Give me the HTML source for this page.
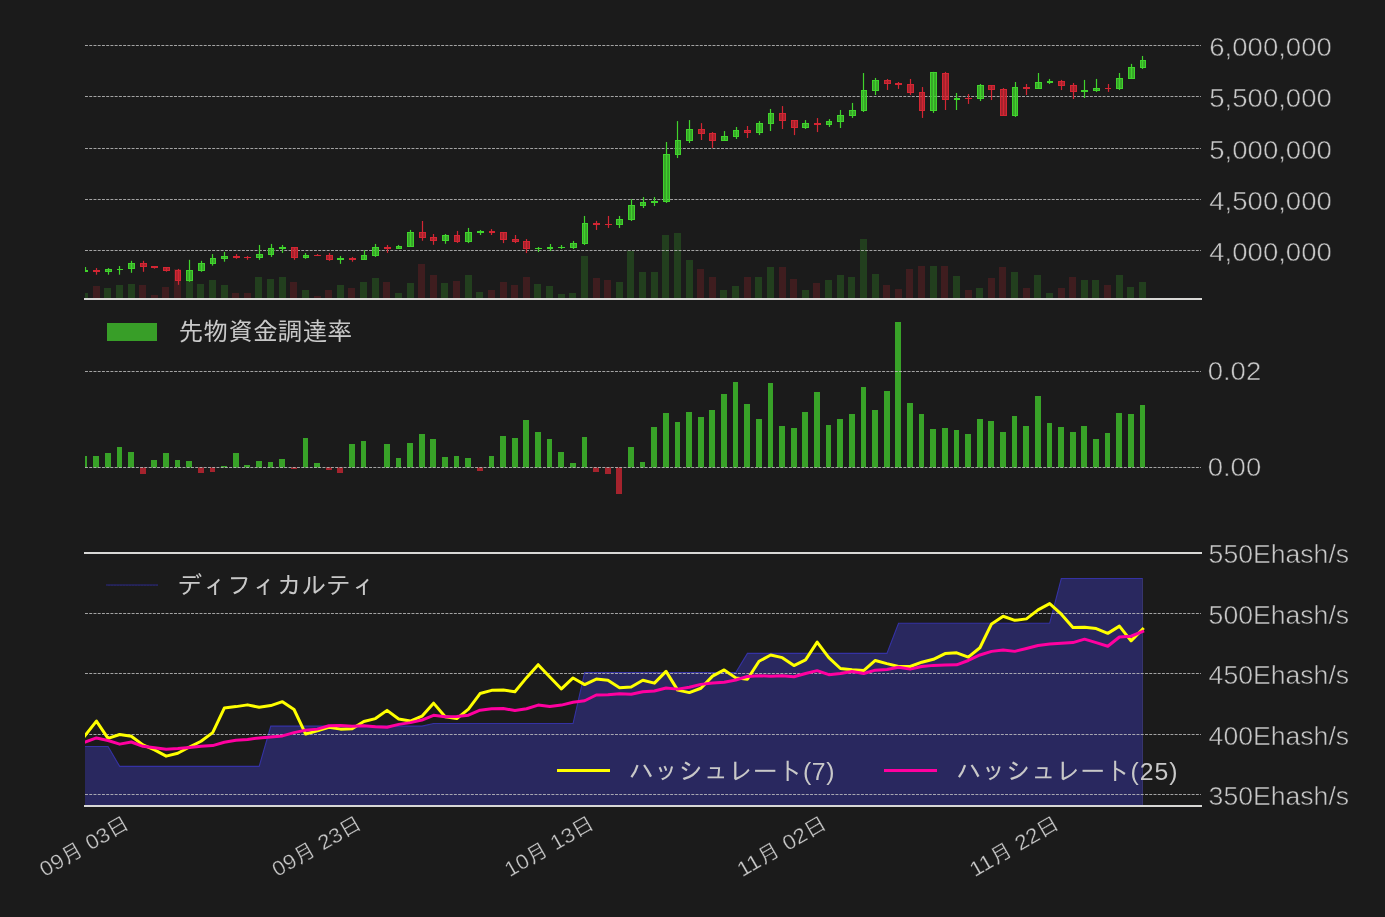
<!DOCTYPE html>
<html lang="ja"><head><meta charset="utf-8"><title>chart</title>
<style>html,body{margin:0;padding:0;background:#1b1b1b;}body{width:1385px;height:917px;overflow:hidden;}</style>
</head><body>
<svg width="1385" height="917" viewBox="0 0 1385 917" style="display:block">
<rect width="1385" height="917" fill="#1b1b1b"/>
<defs><clipPath id="cp"><rect x="85.0" y="0" width="1116.0" height="917"/></clipPath></defs>
<g clip-path="url(#cp)">
<rect x="81" y="293" width="7" height="6" fill="#40d32c" fill-opacity="0.2"/>
<rect x="93" y="286" width="7" height="13" fill="#d32633" fill-opacity="0.2"/>
<rect x="104" y="288" width="7" height="11" fill="#40d32c" fill-opacity="0.2"/>
<rect x="116" y="285" width="7" height="14" fill="#40d32c" fill-opacity="0.2"/>
<rect x="128" y="284" width="7" height="15" fill="#40d32c" fill-opacity="0.2"/>
<rect x="139" y="285" width="7" height="14" fill="#d32633" fill-opacity="0.2"/>
<rect x="151" y="295" width="7" height="4" fill="#d32633" fill-opacity="0.2"/>
<rect x="162" y="287" width="7" height="12" fill="#d32633" fill-opacity="0.2"/>
<rect x="174" y="269" width="7" height="30" fill="#d32633" fill-opacity="0.2"/>
<rect x="186" y="281" width="7" height="18" fill="#40d32c" fill-opacity="0.2"/>
<rect x="197" y="284" width="7" height="15" fill="#40d32c" fill-opacity="0.2"/>
<rect x="209" y="280" width="7" height="19" fill="#40d32c" fill-opacity="0.2"/>
<rect x="221" y="285" width="7" height="14" fill="#40d32c" fill-opacity="0.2"/>
<rect x="232" y="293" width="7" height="6" fill="#d32633" fill-opacity="0.2"/>
<rect x="244" y="293" width="7" height="6" fill="#d32633" fill-opacity="0.2"/>
<rect x="255" y="277" width="7" height="22" fill="#40d32c" fill-opacity="0.2"/>
<rect x="267" y="279" width="7" height="20" fill="#40d32c" fill-opacity="0.2"/>
<rect x="279" y="277" width="7" height="22" fill="#40d32c" fill-opacity="0.2"/>
<rect x="290" y="282" width="7" height="17" fill="#d32633" fill-opacity="0.2"/>
<rect x="302" y="290" width="7" height="9" fill="#40d32c" fill-opacity="0.2"/>
<rect x="314" y="296" width="7" height="3" fill="#d32633" fill-opacity="0.2"/>
<rect x="325" y="290" width="7" height="9" fill="#d32633" fill-opacity="0.2"/>
<rect x="337" y="285" width="7" height="14" fill="#40d32c" fill-opacity="0.2"/>
<rect x="348" y="288" width="7" height="11" fill="#d32633" fill-opacity="0.2"/>
<rect x="360" y="282" width="7" height="17" fill="#40d32c" fill-opacity="0.2"/>
<rect x="372" y="278" width="7" height="21" fill="#40d32c" fill-opacity="0.2"/>
<rect x="383" y="282" width="7" height="17" fill="#d32633" fill-opacity="0.2"/>
<rect x="395" y="293" width="7" height="6" fill="#40d32c" fill-opacity="0.2"/>
<rect x="407" y="283" width="7" height="16" fill="#40d32c" fill-opacity="0.2"/>
<rect x="418" y="264" width="7" height="35" fill="#d32633" fill-opacity="0.2"/>
<rect x="430" y="275" width="7" height="24" fill="#d32633" fill-opacity="0.2"/>
<rect x="441" y="283" width="7" height="16" fill="#40d32c" fill-opacity="0.2"/>
<rect x="453" y="281" width="7" height="18" fill="#d32633" fill-opacity="0.2"/>
<rect x="465" y="275" width="7" height="24" fill="#40d32c" fill-opacity="0.2"/>
<rect x="476" y="292" width="7" height="7" fill="#40d32c" fill-opacity="0.2"/>
<rect x="488" y="290" width="7" height="9" fill="#d32633" fill-opacity="0.2"/>
<rect x="500" y="282" width="7" height="17" fill="#d32633" fill-opacity="0.2"/>
<rect x="511" y="285" width="7" height="14" fill="#d32633" fill-opacity="0.2"/>
<rect x="523" y="277" width="7" height="22" fill="#d32633" fill-opacity="0.2"/>
<rect x="534" y="284" width="7" height="15" fill="#40d32c" fill-opacity="0.2"/>
<rect x="546" y="286" width="7" height="13" fill="#40d32c" fill-opacity="0.2"/>
<rect x="558" y="294" width="7" height="5" fill="#40d32c" fill-opacity="0.2"/>
<rect x="569" y="293" width="7" height="6" fill="#40d32c" fill-opacity="0.2"/>
<rect x="581" y="256" width="7" height="43" fill="#40d32c" fill-opacity="0.2"/>
<rect x="593" y="278" width="7" height="21" fill="#d32633" fill-opacity="0.2"/>
<rect x="604" y="280" width="7" height="19" fill="#d32633" fill-opacity="0.2"/>
<rect x="616" y="282" width="7" height="17" fill="#40d32c" fill-opacity="0.2"/>
<rect x="627" y="251" width="7" height="48" fill="#40d32c" fill-opacity="0.2"/>
<rect x="639" y="272" width="7" height="27" fill="#40d32c" fill-opacity="0.2"/>
<rect x="651" y="272" width="7" height="27" fill="#40d32c" fill-opacity="0.2"/>
<rect x="662" y="235" width="7" height="64" fill="#40d32c" fill-opacity="0.2"/>
<rect x="674" y="233" width="7" height="66" fill="#40d32c" fill-opacity="0.2"/>
<rect x="686" y="260" width="7" height="39" fill="#40d32c" fill-opacity="0.2"/>
<rect x="697" y="269" width="7" height="30" fill="#d32633" fill-opacity="0.2"/>
<rect x="709" y="277" width="7" height="22" fill="#d32633" fill-opacity="0.2"/>
<rect x="720" y="290" width="7" height="9" fill="#40d32c" fill-opacity="0.2"/>
<rect x="732" y="286" width="7" height="13" fill="#40d32c" fill-opacity="0.2"/>
<rect x="744" y="277" width="7" height="22" fill="#d32633" fill-opacity="0.2"/>
<rect x="755" y="277" width="7" height="22" fill="#40d32c" fill-opacity="0.2"/>
<rect x="767" y="267" width="7" height="32" fill="#40d32c" fill-opacity="0.2"/>
<rect x="779" y="267" width="7" height="32" fill="#d32633" fill-opacity="0.2"/>
<rect x="790" y="279" width="7" height="20" fill="#d32633" fill-opacity="0.2"/>
<rect x="802" y="290" width="7" height="9" fill="#40d32c" fill-opacity="0.2"/>
<rect x="813" y="283" width="7" height="16" fill="#d32633" fill-opacity="0.2"/>
<rect x="825" y="280" width="7" height="19" fill="#40d32c" fill-opacity="0.2"/>
<rect x="837" y="275" width="7" height="24" fill="#40d32c" fill-opacity="0.2"/>
<rect x="848" y="277" width="7" height="22" fill="#40d32c" fill-opacity="0.2"/>
<rect x="860" y="239" width="7" height="60" fill="#40d32c" fill-opacity="0.2"/>
<rect x="872" y="274" width="7" height="25" fill="#40d32c" fill-opacity="0.2"/>
<rect x="883" y="285" width="7" height="14" fill="#d32633" fill-opacity="0.2"/>
<rect x="895" y="289" width="7" height="10" fill="#d32633" fill-opacity="0.2"/>
<rect x="906" y="269" width="7" height="30" fill="#d32633" fill-opacity="0.2"/>
<rect x="918" y="266" width="7" height="33" fill="#d32633" fill-opacity="0.2"/>
<rect x="930" y="266" width="7" height="33" fill="#40d32c" fill-opacity="0.2"/>
<rect x="941" y="266" width="7" height="33" fill="#d32633" fill-opacity="0.2"/>
<rect x="953" y="276" width="7" height="23" fill="#40d32c" fill-opacity="0.2"/>
<rect x="965" y="290" width="7" height="9" fill="#d32633" fill-opacity="0.2"/>
<rect x="976" y="288" width="7" height="11" fill="#40d32c" fill-opacity="0.2"/>
<rect x="988" y="278" width="7" height="21" fill="#d32633" fill-opacity="0.2"/>
<rect x="999" y="267" width="7" height="32" fill="#d32633" fill-opacity="0.2"/>
<rect x="1011" y="272" width="7" height="27" fill="#40d32c" fill-opacity="0.2"/>
<rect x="1023" y="288" width="7" height="11" fill="#d32633" fill-opacity="0.2"/>
<rect x="1034" y="275" width="7" height="24" fill="#40d32c" fill-opacity="0.2"/>
<rect x="1046" y="293" width="7" height="6" fill="#40d32c" fill-opacity="0.2"/>
<rect x="1058" y="288" width="7" height="11" fill="#d32633" fill-opacity="0.2"/>
<rect x="1069" y="277" width="7" height="22" fill="#d32633" fill-opacity="0.2"/>
<rect x="1081" y="280" width="7" height="19" fill="#40d32c" fill-opacity="0.2"/>
<rect x="1092" y="280" width="7" height="19" fill="#40d32c" fill-opacity="0.2"/>
<rect x="1104" y="285" width="7" height="14" fill="#d32633" fill-opacity="0.2"/>
<rect x="1116" y="275" width="7" height="24" fill="#40d32c" fill-opacity="0.2"/>
<rect x="1127" y="287" width="7" height="12" fill="#40d32c" fill-opacity="0.2"/>
<rect x="1139" y="282" width="7" height="17" fill="#40d32c" fill-opacity="0.2"/>
<g stroke="#c6c6c6" stroke-width="0.8" stroke-dasharray="2.96 1.28" fill="none">
<line x1="85.0" x2="1201.0" y1="45.5" y2="45.5"/>
<line x1="85.0" x2="1201.0" y1="96.5" y2="96.5"/>
<line x1="85.0" x2="1201.0" y1="148.5" y2="148.5"/>
<line x1="85.0" x2="1201.0" y1="199.5" y2="199.5"/>
<line x1="85.0" x2="1201.0" y1="250.5" y2="250.5"/>
</g>
<line x1="85.5" x2="85.5" y1="267.04" y2="271.81" stroke="#40d32c" stroke-width="1.2"/>
<rect x="82" y="270" width="6" height="2" fill="#40d32c"/>
<line x1="96.5" x2="96.5" y1="268.05" y2="274.69" stroke="#d32633" stroke-width="1.2"/>
<rect x="93" y="270" width="7" height="2" fill="#d32633"/>
<line x1="108.5" x2="108.5" y1="268.05" y2="274.69" stroke="#40d32c" stroke-width="1.2"/>
<rect x="105.5" y="269.5" width="6" height="2" fill="#40d32c" fill-opacity="0.75" stroke="#40d32c" stroke-width="1"/>
<line x1="119.5" x2="119.5" y1="266.03" y2="274.69" stroke="#40d32c" stroke-width="1.2"/>
<rect x="117" y="269" width="6" height="1" fill="#40d32c"/>
<line x1="131.5" x2="131.5" y1="260.83" y2="272.82" stroke="#40d32c" stroke-width="1.2"/>
<rect x="128.5" y="263.5" width="6" height="5" fill="#40d32c" fill-opacity="0.75" stroke="#40d32c" stroke-width="1"/>
<line x1="143.5" x2="143.5" y1="260.83" y2="271.81" stroke="#d32633" stroke-width="1.2"/>
<rect x="140.5" y="263.5" width="6" height="3" fill="#d32633" fill-opacity="0.75" stroke="#d32633" stroke-width="1"/>
<line x1="154.5" x2="154.5" y1="266.03" y2="268.63" stroke="#d32633" stroke-width="1.2"/>
<rect x="151" y="266" width="7" height="2" fill="#d32633"/>
<line x1="166.5" x2="166.5" y1="267.04" y2="271.66" stroke="#d32633" stroke-width="1.2"/>
<rect x="163.5" y="267.5" width="6" height="3" fill="#d32633" fill-opacity="0.75" stroke="#d32633" stroke-width="1"/>
<line x1="178.5" x2="178.5" y1="268.92" y2="284.8" stroke="#d32633" stroke-width="1.2"/>
<rect x="175.5" y="270.5" width="5" height="10" fill="#d32633" fill-opacity="0.75" stroke="#d32633" stroke-width="1"/>
<line x1="189.5" x2="189.5" y1="259.82" y2="281.77" stroke="#40d32c" stroke-width="1.2"/>
<rect x="186.5" y="270.5" width="6" height="10" fill="#40d32c" fill-opacity="0.75" stroke="#40d32c" stroke-width="1"/>
<line x1="201.5" x2="201.5" y1="260.83" y2="271.81" stroke="#40d32c" stroke-width="1.2"/>
<rect x="198.5" y="263.5" width="6" height="7" fill="#40d32c" fill-opacity="0.75" stroke="#40d32c" stroke-width="1"/>
<line x1="212.5" x2="212.5" y1="254.04" y2="265.6" stroke="#40d32c" stroke-width="1.2"/>
<rect x="210.5" y="258.5" width="5" height="5" fill="#40d32c" fill-opacity="0.75" stroke="#40d32c" stroke-width="1"/>
<line x1="224.5" x2="224.5" y1="251.88" y2="261.7" stroke="#40d32c" stroke-width="1.2"/>
<rect x="221.5" y="256.5" width="6" height="2" fill="#40d32c" fill-opacity="0.75" stroke="#40d32c" stroke-width="1"/>
<line x1="236.5" x2="236.5" y1="254.04" y2="258.81" stroke="#d32633" stroke-width="1.2"/>
<rect x="233" y="256" width="7" height="2" fill="#d32633"/>
<line x1="247.5" x2="247.5" y1="255.92" y2="259.82" stroke="#d32633" stroke-width="1.2"/>
<rect x="244" y="257" width="7" height="1" fill="#d32633"/>
<line x1="259.5" x2="259.5" y1="244.95" y2="259.82" stroke="#40d32c" stroke-width="1.2"/>
<rect x="256.5" y="254.5" width="6" height="3" fill="#40d32c" fill-opacity="0.75" stroke="#40d32c" stroke-width="1"/>
<line x1="271.5" x2="271.5" y1="243.94" y2="256.93" stroke="#40d32c" stroke-width="1.2"/>
<rect x="268.5" y="248.5" width="5" height="6" fill="#40d32c" fill-opacity="0.75" stroke="#40d32c" stroke-width="1"/>
<line x1="282.5" x2="282.5" y1="244.95" y2="252.89" stroke="#40d32c" stroke-width="1.2"/>
<rect x="279" y="247" width="7" height="2" fill="#40d32c"/>
<line x1="294.5" x2="294.5" y1="247.11" y2="259.82" stroke="#d32633" stroke-width="1.2"/>
<rect x="291.5" y="247.5" width="6" height="10" fill="#d32633" fill-opacity="0.75" stroke="#d32633" stroke-width="1"/>
<line x1="305.5" x2="305.5" y1="253.03" y2="258.81" stroke="#40d32c" stroke-width="1.2"/>
<rect x="303.5" y="255.5" width="5" height="2" fill="#40d32c" fill-opacity="0.75" stroke="#40d32c" stroke-width="1"/>
<line x1="317.5" x2="317.5" y1="254.04" y2="255.92" stroke="#d32633" stroke-width="1.2"/>
<rect x="314" y="255" width="7" height="1" fill="#d32633"/>
<line x1="329.5" x2="329.5" y1="253.03" y2="260.83" stroke="#d32633" stroke-width="1.2"/>
<rect x="326.5" y="255.5" width="6" height="4" fill="#d32633" fill-opacity="0.75" stroke="#d32633" stroke-width="1"/>
<line x1="340.5" x2="340.5" y1="255.92" y2="263.86" stroke="#40d32c" stroke-width="1.2"/>
<rect x="337" y="258" width="7" height="2" fill="#40d32c"/>
<line x1="352.5" x2="352.5" y1="256.93" y2="261.7" stroke="#d32633" stroke-width="1.2"/>
<rect x="349" y="258" width="7" height="2" fill="#d32633"/>
<line x1="364.5" x2="364.5" y1="250.14" y2="259.82" stroke="#40d32c" stroke-width="1.2"/>
<rect x="361.5" y="255.5" width="5" height="4" fill="#40d32c" fill-opacity="0.75" stroke="#40d32c" stroke-width="1"/>
<line x1="375.5" x2="375.5" y1="243.94" y2="256.93" stroke="#40d32c" stroke-width="1.2"/>
<rect x="372.5" y="247.5" width="6" height="8" fill="#40d32c" fill-opacity="0.75" stroke="#40d32c" stroke-width="1"/>
<line x1="387.5" x2="387.5" y1="244.95" y2="252.89" stroke="#d32633" stroke-width="1.2"/>
<rect x="384" y="247" width="7" height="2" fill="#d32633"/>
<line x1="398.5" x2="398.5" y1="244.95" y2="248.7" stroke="#40d32c" stroke-width="1.2"/>
<rect x="396.5" y="246.5" width="5" height="2" fill="#40d32c" fill-opacity="0.75" stroke="#40d32c" stroke-width="1"/>
<line x1="410.5" x2="410.5" y1="229.93" y2="246.68" stroke="#40d32c" stroke-width="1.2"/>
<rect x="407.5" y="232.5" width="6" height="14" fill="#40d32c" fill-opacity="0.75" stroke="#40d32c" stroke-width="1"/>
<line x1="422.5" x2="422.5" y1="220.97" y2="240.76" stroke="#d32633" stroke-width="1.2"/>
<rect x="419.5" y="232.5" width="6" height="5" fill="#d32633" fill-opacity="0.75" stroke="#d32633" stroke-width="1"/>
<line x1="433.5" x2="433.5" y1="233.97" y2="244.8" stroke="#d32633" stroke-width="1.2"/>
<rect x="430.5" y="237.5" width="6" height="3" fill="#d32633" fill-opacity="0.75" stroke="#d32633" stroke-width="1"/>
<line x1="445.5" x2="445.5" y1="233.97" y2="243.79" stroke="#40d32c" stroke-width="1.2"/>
<rect x="442.5" y="235.5" width="6" height="5" fill="#40d32c" fill-opacity="0.75" stroke="#40d32c" stroke-width="1"/>
<line x1="457.5" x2="457.5" y1="230.94" y2="242.92" stroke="#d32633" stroke-width="1.2"/>
<rect x="454.5" y="235.5" width="5" height="6" fill="#d32633" fill-opacity="0.75" stroke="#d32633" stroke-width="1"/>
<line x1="468.5" x2="468.5" y1="227.94" y2="243.1" stroke="#40d32c" stroke-width="1.2"/>
<rect x="465.5" y="232.5" width="6" height="9" fill="#40d32c" fill-opacity="0.75" stroke="#40d32c" stroke-width="1"/>
<line x1="480.5" x2="480.5" y1="229.96" y2="235.02" stroke="#40d32c" stroke-width="1.2"/>
<rect x="477" y="231" width="7" height="2" fill="#40d32c"/>
<line x1="491.5" x2="491.5" y1="229.1" y2="235.02" stroke="#d32633" stroke-width="1.2"/>
<rect x="489" y="231" width="6" height="2" fill="#d32633"/>
<line x1="503.5" x2="503.5" y1="231.99" y2="243.1" stroke="#d32633" stroke-width="1.2"/>
<rect x="500.5" y="232.5" width="6" height="7" fill="#d32633" fill-opacity="0.75" stroke="#d32633" stroke-width="1"/>
<line x1="515.5" x2="515.5" y1="235.02" y2="243.1" stroke="#d32633" stroke-width="1.2"/>
<rect x="512.5" y="239.5" width="6" height="2" fill="#d32633" fill-opacity="0.75" stroke="#d32633" stroke-width="1"/>
<line x1="526.5" x2="526.5" y1="239.06" y2="253.07" stroke="#d32633" stroke-width="1.2"/>
<rect x="523.5" y="241.5" width="6" height="7" fill="#d32633" fill-opacity="0.75" stroke="#d32633" stroke-width="1"/>
<line x1="538.5" x2="538.5" y1="247" y2="252.06" stroke="#40d32c" stroke-width="1.2"/>
<rect x="535" y="248" width="7" height="1" fill="#40d32c"/>
<line x1="550.5" x2="550.5" y1="243.97" y2="251.05" stroke="#40d32c" stroke-width="1.2"/>
<rect x="547" y="247" width="6" height="2" fill="#40d32c"/>
<line x1="561.5" x2="561.5" y1="244.98" y2="249.03" stroke="#40d32c" stroke-width="1.2"/>
<rect x="558" y="247" width="7" height="1" fill="#40d32c"/>
<line x1="573.5" x2="573.5" y1="240.94" y2="249.03" stroke="#40d32c" stroke-width="1.2"/>
<rect x="570.5" y="243.5" width="6" height="4" fill="#40d32c" fill-opacity="0.75" stroke="#40d32c" stroke-width="1"/>
<line x1="584.5" x2="584.5" y1="215.96" y2="244.98" stroke="#40d32c" stroke-width="1.2"/>
<rect x="582.5" y="223.5" width="5" height="20" fill="#40d32c" fill-opacity="0.75" stroke="#40d32c" stroke-width="1"/>
<line x1="596.5" x2="596.5" y1="220.87" y2="229.96" stroke="#d32633" stroke-width="1.2"/>
<rect x="593" y="223" width="7" height="2" fill="#d32633"/>
<line x1="608.5" x2="608.5" y1="215.96" y2="227.94" stroke="#d32633" stroke-width="1.2"/>
<rect x="605" y="224" width="7" height="1" fill="#d32633"/>
<line x1="619.5" x2="619.5" y1="215.96" y2="227.94" stroke="#40d32c" stroke-width="1.2"/>
<rect x="616.5" y="219.5" width="6" height="5" fill="#40d32c" fill-opacity="0.75" stroke="#40d32c" stroke-width="1"/>
<line x1="631.5" x2="631.5" y1="199.21" y2="221.01" stroke="#40d32c" stroke-width="1.2"/>
<rect x="628.5" y="205.5" width="6" height="14" fill="#40d32c" fill-opacity="0.75" stroke="#40d32c" stroke-width="1"/>
<line x1="643.5" x2="643.5" y1="197.04" y2="208.01" stroke="#40d32c" stroke-width="1.2"/>
<rect x="640.5" y="202.5" width="5" height="3" fill="#40d32c" fill-opacity="0.75" stroke="#40d32c" stroke-width="1"/>
<line x1="654.5" x2="654.5" y1="197.04" y2="205.99" stroke="#40d32c" stroke-width="1.2"/>
<rect x="651" y="201" width="7" height="2" fill="#40d32c"/>
<line x1="666.5" x2="666.5" y1="142.02" y2="202.96" stroke="#40d32c" stroke-width="1.2"/>
<rect x="663.5" y="154.5" width="6" height="47" fill="#40d32c" fill-opacity="0.75" stroke="#40d32c" stroke-width="1"/>
<line x1="677.5" x2="677.5" y1="121.08" y2="158.05" stroke="#40d32c" stroke-width="1.2"/>
<rect x="675.5" y="140.5" width="5" height="14" fill="#40d32c" fill-opacity="0.75" stroke="#40d32c" stroke-width="1"/>
<line x1="689.5" x2="689.5" y1="120.07" y2="143.03" stroke="#40d32c" stroke-width="1.2"/>
<rect x="686.5" y="129.5" width="6" height="11" fill="#40d32c" fill-opacity="0.75" stroke="#40d32c" stroke-width="1"/>
<line x1="701.5" x2="701.5" y1="123.1" y2="140" stroke="#d32633" stroke-width="1.2"/>
<rect x="698.5" y="129.5" width="6" height="4" fill="#d32633" fill-opacity="0.75" stroke="#d32633" stroke-width="1"/>
<line x1="712.5" x2="712.5" y1="132.06" y2="147.94" stroke="#d32633" stroke-width="1.2"/>
<rect x="709.5" y="133.5" width="6" height="7" fill="#d32633" fill-opacity="0.75" stroke="#d32633" stroke-width="1"/>
<line x1="724.5" x2="724.5" y1="131.05" y2="141.01" stroke="#40d32c" stroke-width="1.2"/>
<rect x="721.5" y="136.5" width="6" height="4" fill="#40d32c" fill-opacity="0.75" stroke="#40d32c" stroke-width="1"/>
<line x1="736.5" x2="736.5" y1="127" y2="138.99" stroke="#40d32c" stroke-width="1.2"/>
<rect x="733.5" y="130.5" width="5" height="6" fill="#40d32c" fill-opacity="0.75" stroke="#40d32c" stroke-width="1"/>
<line x1="747.5" x2="747.5" y1="125.99" y2="137.98" stroke="#d32633" stroke-width="1.2"/>
<rect x="744.5" y="130.5" width="6" height="2" fill="#d32633" fill-opacity="0.75" stroke="#d32633" stroke-width="1"/>
<line x1="759.5" x2="759.5" y1="121.08" y2="135.09" stroke="#40d32c" stroke-width="1.2"/>
<rect x="756.5" y="123.5" width="6" height="9" fill="#40d32c" fill-opacity="0.75" stroke="#40d32c" stroke-width="1"/>
<line x1="770.5" x2="770.5" y1="108.95" y2="131.05" stroke="#40d32c" stroke-width="1.2"/>
<rect x="768.5" y="113.5" width="5" height="10" fill="#40d32c" fill-opacity="0.75" stroke="#40d32c" stroke-width="1"/>
<line x1="782.5" x2="782.5" y1="106.06" y2="129.03" stroke="#d32633" stroke-width="1.2"/>
<rect x="779.5" y="113.5" width="6" height="7" fill="#d32633" fill-opacity="0.75" stroke="#d32633" stroke-width="1"/>
<line x1="794.5" x2="794.5" y1="120.07" y2="135.09" stroke="#d32633" stroke-width="1.2"/>
<rect x="791.5" y="120.5" width="6" height="7" fill="#d32633" fill-opacity="0.75" stroke="#d32633" stroke-width="1"/>
<line x1="805.5" x2="805.5" y1="120.07" y2="129.03" stroke="#40d32c" stroke-width="1.2"/>
<rect x="802.5" y="123.5" width="6" height="4" fill="#40d32c" fill-opacity="0.75" stroke="#40d32c" stroke-width="1"/>
<line x1="817.5" x2="817.5" y1="118.05" y2="132.06" stroke="#d32633" stroke-width="1.2"/>
<rect x="814" y="123" width="7" height="2" fill="#d32633"/>
<line x1="829.5" x2="829.5" y1="119.06" y2="127" stroke="#40d32c" stroke-width="1.2"/>
<rect x="826.5" y="121.5" width="5" height="3" fill="#40d32c" fill-opacity="0.75" stroke="#40d32c" stroke-width="1"/>
<line x1="840.5" x2="840.5" y1="109.96" y2="128.01" stroke="#40d32c" stroke-width="1.2"/>
<rect x="837.5" y="115.5" width="6" height="6" fill="#40d32c" fill-opacity="0.75" stroke="#40d32c" stroke-width="1"/>
<line x1="852.5" x2="852.5" y1="102.92" y2="117.94" stroke="#40d32c" stroke-width="1.2"/>
<rect x="849.5" y="110.5" width="6" height="5" fill="#40d32c" fill-opacity="0.75" stroke="#40d32c" stroke-width="1"/>
<line x1="863.5" x2="863.5" y1="73.03" y2="112.02" stroke="#40d32c" stroke-width="1.2"/>
<rect x="861.5" y="90.5" width="5" height="20" fill="#40d32c" fill-opacity="0.75" stroke="#40d32c" stroke-width="1"/>
<line x1="875.5" x2="875.5" y1="77.94" y2="94.98" stroke="#40d32c" stroke-width="1.2"/>
<rect x="872.5" y="80.5" width="6" height="10" fill="#40d32c" fill-opacity="0.75" stroke="#40d32c" stroke-width="1"/>
<line x1="887.5" x2="887.5" y1="78.95" y2="89.93" stroke="#d32633" stroke-width="1.2"/>
<rect x="884.5" y="80.5" width="6" height="3" fill="#d32633" fill-opacity="0.75" stroke="#d32633" stroke-width="1"/>
<line x1="898.5" x2="898.5" y1="81.99" y2="88.92" stroke="#d32633" stroke-width="1.2"/>
<rect x="895" y="83" width="7" height="2" fill="#d32633"/>
<line x1="910.5" x2="910.5" y1="78.95" y2="94.98" stroke="#d32633" stroke-width="1.2"/>
<rect x="907.5" y="84.5" width="6" height="8" fill="#d32633" fill-opacity="0.75" stroke="#d32633" stroke-width="1"/>
<line x1="922.5" x2="922.5" y1="87.04" y2="117.94" stroke="#d32633" stroke-width="1.2"/>
<rect x="919.5" y="92.5" width="5" height="18" fill="#d32633" fill-opacity="0.75" stroke="#d32633" stroke-width="1"/>
<line x1="933.5" x2="933.5" y1="71.88" y2="112.89" stroke="#40d32c" stroke-width="1.2"/>
<rect x="930.5" y="72.5" width="6" height="38" fill="#40d32c" fill-opacity="0.75" stroke="#40d32c" stroke-width="1"/>
<line x1="945.5" x2="945.5" y1="71.88" y2="110" stroke="#d32633" stroke-width="1.2"/>
<rect x="942.5" y="73.5" width="6" height="26" fill="#d32633" fill-opacity="0.75" stroke="#d32633" stroke-width="1"/>
<line x1="956.5" x2="956.5" y1="92.96" y2="110" stroke="#40d32c" stroke-width="1.2"/>
<rect x="954" y="98" width="6" height="2" fill="#40d32c"/>
<line x1="968.5" x2="968.5" y1="93.97" y2="103.94" stroke="#d32633" stroke-width="1.2"/>
<rect x="965" y="98" width="7" height="1" fill="#d32633"/>
<line x1="980.5" x2="980.5" y1="84.01" y2="101.05" stroke="#40d32c" stroke-width="1.2"/>
<rect x="977.5" y="85.5" width="6" height="13" fill="#40d32c" fill-opacity="0.75" stroke="#40d32c" stroke-width="1"/>
<line x1="991.5" x2="991.5" y1="85.02" y2="100.04" stroke="#d32633" stroke-width="1.2"/>
<rect x="988.5" y="85.5" width="6" height="4" fill="#d32633" fill-opacity="0.75" stroke="#d32633" stroke-width="1"/>
<line x1="1003.5" x2="1003.5" y1="88.05" y2="115.92" stroke="#d32633" stroke-width="1.2"/>
<rect x="1000.5" y="89.5" width="6" height="26" fill="#d32633" fill-opacity="0.75" stroke="#d32633" stroke-width="1"/>
<line x1="1015.5" x2="1015.5" y1="81.99" y2="116.93" stroke="#40d32c" stroke-width="1.2"/>
<rect x="1012.5" y="87.5" width="5" height="28" fill="#40d32c" fill-opacity="0.75" stroke="#40d32c" stroke-width="1"/>
<line x1="1026.5" x2="1026.5" y1="84.01" y2="94.98" stroke="#d32633" stroke-width="1.2"/>
<rect x="1023" y="87" width="7" height="2" fill="#d32633"/>
<line x1="1038.5" x2="1038.5" y1="73" y2="89.03" stroke="#40d32c" stroke-width="1.2"/>
<rect x="1035.5" y="82.5" width="6" height="6" fill="#40d32c" fill-opacity="0.75" stroke="#40d32c" stroke-width="1"/>
<line x1="1049.5" x2="1049.5" y1="78.92" y2="83.97" stroke="#40d32c" stroke-width="1.2"/>
<rect x="1047" y="81" width="6" height="2" fill="#40d32c"/>
<line x1="1061.5" x2="1061.5" y1="79.93" y2="90.04" stroke="#d32633" stroke-width="1.2"/>
<rect x="1058.5" y="81.5" width="6" height="4" fill="#d32633" fill-opacity="0.75" stroke="#d32633" stroke-width="1"/>
<line x1="1073.5" x2="1073.5" y1="82.96" y2="98.99" stroke="#d32633" stroke-width="1.2"/>
<rect x="1070.5" y="85.5" width="6" height="6" fill="#d32633" fill-opacity="0.75" stroke="#d32633" stroke-width="1"/>
<line x1="1084.5" x2="1084.5" y1="79.93" y2="97.98" stroke="#40d32c" stroke-width="1.2"/>
<rect x="1081" y="90" width="7" height="2" fill="#40d32c"/>
<line x1="1096.5" x2="1096.5" y1="78.92" y2="91.91" stroke="#40d32c" stroke-width="1.2"/>
<rect x="1093.5" y="88.5" width="6" height="2" fill="#40d32c" fill-opacity="0.75" stroke="#40d32c" stroke-width="1"/>
<line x1="1108.5" x2="1108.5" y1="83.97" y2="91.91" stroke="#d32633" stroke-width="1.2"/>
<rect x="1105" y="88" width="6" height="1" fill="#d32633"/>
<line x1="1119.5" x2="1119.5" y1="73" y2="90.04" stroke="#40d32c" stroke-width="1.2"/>
<rect x="1116.5" y="78.5" width="6" height="10" fill="#40d32c" fill-opacity="0.75" stroke="#40d32c" stroke-width="1"/>
<line x1="1131.5" x2="1131.5" y1="63.9" y2="78.92" stroke="#40d32c" stroke-width="1.2"/>
<rect x="1128.5" y="67.5" width="6" height="11" fill="#40d32c" fill-opacity="0.75" stroke="#40d32c" stroke-width="1"/>
<line x1="1142.5" x2="1142.5" y1="55.96" y2="68.95" stroke="#40d32c" stroke-width="1.2"/>
<rect x="1140.5" y="60.5" width="5" height="7" fill="#40d32c" fill-opacity="0.75" stroke="#40d32c" stroke-width="1"/>
</g>
<g clip-path="url(#cp)">
<rect x="82" y="456" width="5" height="11.5" fill="#38a228"/>
<rect x="93" y="456" width="6" height="11.5" fill="#38a228"/>
<rect x="105" y="453" width="6" height="14.5" fill="#38a228"/>
<rect x="117" y="447" width="5" height="20.5" fill="#38a228"/>
<rect x="128" y="452" width="6" height="15.5" fill="#38a228"/>
<rect x="140" y="467.5" width="6" height="6.5" fill="#a5232d"/>
<rect x="151" y="460" width="6" height="7.5" fill="#38a228"/>
<rect x="163" y="453" width="6" height="14.5" fill="#38a228"/>
<rect x="175" y="460" width="5" height="7.5" fill="#38a228"/>
<rect x="186" y="461" width="6" height="6.5" fill="#38a228"/>
<rect x="198" y="467.5" width="6" height="5.5" fill="#a5232d"/>
<rect x="210" y="467.5" width="5" height="4.5" fill="#a5232d"/>
<rect x="221" y="466" width="6" height="1.5" fill="#38a228"/>
<rect x="233" y="453" width="6" height="14.5" fill="#38a228"/>
<rect x="244" y="465" width="6" height="2.5" fill="#38a228"/>
<rect x="256" y="461" width="6" height="6.5" fill="#38a228"/>
<rect x="268" y="462" width="5" height="5.5" fill="#38a228"/>
<rect x="279" y="459" width="6" height="8.5" fill="#38a228"/>
<rect x="291" y="467.5" width="6" height="1.5" fill="#a5232d"/>
<rect x="303" y="438" width="5" height="29.5" fill="#38a228"/>
<rect x="314" y="463" width="6" height="4.5" fill="#38a228"/>
<rect x="326" y="467.5" width="6" height="2.5" fill="#a5232d"/>
<rect x="337" y="467.5" width="6" height="5.5" fill="#a5232d"/>
<rect x="349" y="444" width="6" height="23.5" fill="#38a228"/>
<rect x="361" y="441" width="5" height="26.5" fill="#38a228"/>
<rect x="384" y="444" width="6" height="23.5" fill="#38a228"/>
<rect x="396" y="458" width="5" height="9.5" fill="#38a228"/>
<rect x="407" y="443" width="6" height="24.5" fill="#38a228"/>
<rect x="419" y="434" width="6" height="33.5" fill="#38a228"/>
<rect x="430" y="439" width="6" height="28.5" fill="#38a228"/>
<rect x="442" y="457" width="6" height="10.5" fill="#38a228"/>
<rect x="454" y="456" width="5" height="11.5" fill="#38a228"/>
<rect x="465" y="458" width="6" height="9.5" fill="#38a228"/>
<rect x="477" y="467.5" width="6" height="3.5" fill="#a5232d"/>
<rect x="489" y="456" width="5" height="11.5" fill="#38a228"/>
<rect x="500" y="436" width="6" height="31.5" fill="#38a228"/>
<rect x="512" y="438" width="6" height="29.5" fill="#38a228"/>
<rect x="523" y="420" width="6" height="47.5" fill="#38a228"/>
<rect x="535" y="432" width="6" height="35.5" fill="#38a228"/>
<rect x="547" y="439" width="5" height="28.5" fill="#38a228"/>
<rect x="558" y="452" width="6" height="15.5" fill="#38a228"/>
<rect x="570" y="463" width="6" height="4.5" fill="#38a228"/>
<rect x="582" y="437" width="5" height="30.5" fill="#38a228"/>
<rect x="593" y="467.5" width="6" height="4.5" fill="#a5232d"/>
<rect x="605" y="467.5" width="6" height="6.5" fill="#a5232d"/>
<rect x="616" y="467.5" width="6" height="26.5" fill="#a5232d"/>
<rect x="628" y="447" width="6" height="20.5" fill="#38a228"/>
<rect x="640" y="462" width="5" height="5.5" fill="#38a228"/>
<rect x="651" y="427" width="6" height="40.5" fill="#38a228"/>
<rect x="663" y="413" width="6" height="54.5" fill="#38a228"/>
<rect x="675" y="422" width="5" height="45.5" fill="#38a228"/>
<rect x="686" y="412" width="6" height="55.5" fill="#38a228"/>
<rect x="698" y="417" width="6" height="50.5" fill="#38a228"/>
<rect x="709" y="410" width="6" height="57.5" fill="#38a228"/>
<rect x="721" y="394" width="6" height="73.5" fill="#38a228"/>
<rect x="733" y="382" width="5" height="85.5" fill="#38a228"/>
<rect x="744" y="404" width="6" height="63.5" fill="#38a228"/>
<rect x="756" y="419" width="6" height="48.5" fill="#38a228"/>
<rect x="768" y="383" width="5" height="84.5" fill="#38a228"/>
<rect x="779" y="426" width="6" height="41.5" fill="#38a228"/>
<rect x="791" y="428" width="6" height="39.5" fill="#38a228"/>
<rect x="802" y="412" width="6" height="55.5" fill="#38a228"/>
<rect x="814" y="392" width="6" height="75.5" fill="#38a228"/>
<rect x="826" y="425" width="5" height="42.5" fill="#38a228"/>
<rect x="837" y="419" width="6" height="48.5" fill="#38a228"/>
<rect x="849" y="414" width="6" height="53.5" fill="#38a228"/>
<rect x="861" y="387" width="5" height="80.5" fill="#38a228"/>
<rect x="872" y="410" width="6" height="57.5" fill="#38a228"/>
<rect x="884" y="391" width="6" height="76.5" fill="#38a228"/>
<rect x="895" y="322" width="6" height="145.5" fill="#38a228"/>
<rect x="907" y="403" width="6" height="64.5" fill="#38a228"/>
<rect x="919" y="414" width="5" height="53.5" fill="#38a228"/>
<rect x="930" y="429" width="6" height="38.5" fill="#38a228"/>
<rect x="942" y="428" width="6" height="39.5" fill="#38a228"/>
<rect x="954" y="430" width="5" height="37.5" fill="#38a228"/>
<rect x="965" y="434" width="6" height="33.5" fill="#38a228"/>
<rect x="977" y="419" width="6" height="48.5" fill="#38a228"/>
<rect x="988" y="421" width="6" height="46.5" fill="#38a228"/>
<rect x="1000" y="432" width="6" height="35.5" fill="#38a228"/>
<rect x="1012" y="416" width="5" height="51.5" fill="#38a228"/>
<rect x="1023" y="426" width="6" height="41.5" fill="#38a228"/>
<rect x="1035" y="396" width="6" height="71.5" fill="#38a228"/>
<rect x="1047" y="423" width="5" height="44.5" fill="#38a228"/>
<rect x="1058" y="427" width="6" height="40.5" fill="#38a228"/>
<rect x="1070" y="432" width="6" height="35.5" fill="#38a228"/>
<rect x="1081" y="426" width="6" height="41.5" fill="#38a228"/>
<rect x="1093" y="439" width="6" height="28.5" fill="#38a228"/>
<rect x="1105" y="433" width="5" height="34.5" fill="#38a228"/>
<rect x="1116" y="413" width="6" height="54.5" fill="#38a228"/>
<rect x="1128" y="414" width="6" height="53.5" fill="#38a228"/>
<rect x="1140" y="405" width="5" height="62.5" fill="#38a228"/>
<g stroke="#c6c6c6" stroke-width="0.8" stroke-dasharray="2.96 1.28" fill="none">
<line x1="85.0" x2="1201.0" y1="371.5" y2="371.5"/>
<line x1="85.0" x2="1201.0" y1="467.5" y2="467.5"/>
</g>
</g>
<g clip-path="url(#cp)">
<path d="M84.8 746.5 L96.42 746.5 L108.05 746.5 L119.67 766.4 L131.3 766.4 L142.93 766.4 L154.55 766.4 L166.18 766.4 L177.8 766.4 L189.43 766.4 L201.05 766.4 L212.68 766.4 L224.3 766.4 L235.93 766.4 L247.55 766.4 L259.18 766.4 L270.8 726.1 L282.43 726.1 L294.05 726.1 L305.68 726.1 L317.3 726.1 L328.93 726.1 L340.55 726.1 L352.18 726.1 L363.8 726.1 L375.43 726.1 L387.05 726.1 L398.68 726.1 L410.3 726.1 L421.93 726.1 L433.55 723.5 L445.18 723.5 L456.8 723.5 L468.43 723.5 L480.05 723.5 L491.68 723.5 L503.3 723.5 L514.92 723.5 L526.55 723.5 L538.17 723.5 L549.8 723.5 L561.42 723.5 L573.05 723.5 L584.67 672.5 L596.3 672.5 L607.92 672.5 L619.55 672.5 L631.17 672.5 L642.8 672.5 L654.42 672.5 L666.05 672.5 L677.67 672.5 L689.3 672.5 L700.92 672.5 L712.55 672.5 L724.17 672.5 L735.8 672.5 L747.42 653.4 L759.05 653.4 L770.67 653.4 L782.3 653.4 L793.92 653.4 L805.55 653.4 L817.17 653.4 L828.8 653.4 L840.42 653.4 L852.05 653.4 L863.67 653.4 L875.3 653.4 L886.92 653.4 L898.55 623.3 L910.17 623.3 L921.8 623.3 L933.42 623.3 L945.05 623.3 L956.67 623.3 L968.3 623.3 L979.92 623.3 L991.55 623.3 L1003.17 623.3 L1014.8 623.3 L1026.42 623.3 L1038.05 623.3 L1049.67 623.3 L1061.3 578.5 L1072.92 578.5 L1084.55 578.5 L1096.17 578.5 L1107.8 578.5 L1119.42 578.5 L1131.05 578.5 L1142.67 578.5 L1142.67 806 L85.0 806 Z" fill="#29285f"/>
<path d="M1142.47 578.5 L1142.47 806" fill="none" stroke="#38366f" stroke-width="1"/>
<path d="M84.8 746.5 L96.42 746.5 L108.05 746.5 L119.67 766.4 L131.3 766.4 L142.93 766.4 L154.55 766.4 L166.18 766.4 L177.8 766.4 L189.43 766.4 L201.05 766.4 L212.68 766.4 L224.3 766.4 L235.93 766.4 L247.55 766.4 L259.18 766.4 L270.8 726.1 L282.43 726.1 L294.05 726.1 L305.68 726.1 L317.3 726.1 L328.93 726.1 L340.55 726.1 L352.18 726.1 L363.8 726.1 L375.43 726.1 L387.05 726.1 L398.68 726.1 L410.3 726.1 L421.93 726.1 L433.55 723.5 L445.18 723.5 L456.8 723.5 L468.43 723.5 L480.05 723.5 L491.68 723.5 L503.3 723.5 L514.92 723.5 L526.55 723.5 L538.17 723.5 L549.8 723.5 L561.42 723.5 L573.05 723.5 L584.67 672.5 L596.3 672.5 L607.92 672.5 L619.55 672.5 L631.17 672.5 L642.8 672.5 L654.42 672.5 L666.05 672.5 L677.67 672.5 L689.3 672.5 L700.92 672.5 L712.55 672.5 L724.17 672.5 L735.8 672.5 L747.42 653.4 L759.05 653.4 L770.67 653.4 L782.3 653.4 L793.92 653.4 L805.55 653.4 L817.17 653.4 L828.8 653.4 L840.42 653.4 L852.05 653.4 L863.67 653.4 L875.3 653.4 L886.92 653.4 L898.55 623.3 L910.17 623.3 L921.8 623.3 L933.42 623.3 L945.05 623.3 L956.67 623.3 L968.3 623.3 L979.92 623.3 L991.55 623.3 L1003.17 623.3 L1014.8 623.3 L1026.42 623.3 L1038.05 623.3 L1049.67 623.3 L1061.3 578.5 L1072.92 578.5 L1084.55 578.5 L1096.17 578.5 L1107.8 578.5 L1119.42 578.5 L1131.05 578.5 L1142.67 578.5" fill="none" stroke="#3532a4" stroke-width="1.1" stroke-linejoin="miter"/>
<g stroke="#c6c6c6" stroke-width="0.8" stroke-dasharray="2.96 1.28" fill="none">
<line x1="85.0" x2="1201.0" y1="613.5" y2="613.5"/>
<line x1="85.0" x2="1201.0" y1="673.5" y2="673.5"/>
<line x1="85.0" x2="1201.0" y1="734.5" y2="734.5"/>
<line x1="85.0" x2="1201.0" y1="794.5" y2="794.5"/>
</g>
<polyline points="84.8,735.92 96.42,721.05 108.05,738.38 119.67,734.48 131.3,736.21 142.93,744.87 154.55,749.93 166.18,756.14 177.8,753.25 189.43,747.04 201.05,741.26 212.68,732.6 224.3,708.05 235.93,706.61 247.55,704.87 259.18,707.33 270.8,705.6 282.43,701.7 294.05,709.49 305.68,734.04 317.3,730.87 328.93,727.26 340.55,729.13 352.18,728.7 363.8,721.48 375.43,718.59 387.05,710.36 398.68,719.03 410.3,721.05 421.93,716.14 433.55,703.14 445.18,716.71 456.8,718.59 468.43,709.13 480.05,693.54 491.68,690.36 503.3,689.93 514.92,691.81 526.55,677.65 538.17,664.66 549.8,676.93 561.42,688.92 573.05,677.94 584.67,684.58 596.3,679.1 607.92,680.25 619.55,687.76 631.17,687.04 642.8,680.25 654.42,683.14 666.05,671.37 677.67,690.14 689.3,692.6 700.92,688.27 712.55,676.14 724.17,669.93 735.8,677.87 747.42,679.31 759.05,661.26 770.67,655.05 782.3,657.65 793.92,665.6 805.55,659.82 817.17,642.06 828.8,657.65 840.42,668.48 852.05,669.71 863.67,670.58 875.3,660.47 886.92,663.65 898.55,666.53 910.17,666.53 921.8,662.2 933.42,659.31 945.05,653.54 956.67,652.82 968.3,657.15 979.92,647.76 991.55,623.94 1003.17,616.28 1014.8,620.32 1026.42,618.88 1038.05,609.82 1049.67,603.61 1061.3,614.15 1072.92,627.58 1084.55,627.15 1096.17,628.59 1107.8,633.36 1119.42,626.14 1131.05,640.87 1142.67,629.03" fill="none" stroke="#ffff00" stroke-width="3" stroke-linejoin="round" stroke-linecap="square"/>
<polyline points="84.8,742.27 96.42,737.94 108.05,740.54 119.67,744.15 131.3,741.99 142.93,746.32 154.55,747.76 166.18,749.21 177.8,748.48 189.43,747.47 201.05,746.32 212.68,745.6 224.3,742.27 235.93,740.25 247.55,739.39 259.18,737.94 270.8,736.93 282.43,735.92 294.05,732.6 305.68,730.14 317.3,729.13 328.93,725.81 340.55,725.52 352.18,726.25 363.8,725.81 375.43,726.82 387.05,727.26 398.68,724.37 410.3,722.64 421.93,720.04 433.55,715.27 445.18,716.71 456.8,716.43 468.43,715.2 480.05,710.14 491.68,708.7 503.3,708.41 514.92,710.58 526.55,708.7 538.17,705.09 549.8,706.53 561.42,705.09 573.05,702.2 584.67,700.76 596.3,694.98 607.92,694.69 619.55,693.83 631.17,694.26 642.8,691.81 654.42,690.94 666.05,687.98 677.67,689.13 689.3,687.26 700.92,684.37 712.55,682.92 724.17,682.2 735.8,680.04 747.42,676.43 759.05,675.7 770.67,676.14 782.3,675.7 793.92,676.71 805.55,673.54 817.17,670.65 828.8,674.69 840.42,673.54 852.05,671.59 863.67,673.47 875.3,670.14 886.92,669.42 898.55,667.26 910.17,669.13 921.8,666.53 933.42,665.38 945.05,665.09 956.67,664.8 968.3,660.47 979.92,654.98 991.55,651.37 1003.17,649.93 1014.8,651.37 1026.42,648.48 1038.05,645.49 1049.67,644.04 1061.3,643.32 1072.92,642.6 1084.55,639.13 1096.17,642.6 1107.8,646.21 1119.42,636.97 1131.05,636.25 1142.67,631.48" fill="none" stroke="#ff00a0" stroke-width="3" stroke-linejoin="round" stroke-linecap="square"/>
</g>
<rect x="84" y="298" width="1118" height="2" fill="#d8d8d6"/>
<rect x="84" y="552" width="1118" height="2" fill="#d8d8d6"/>
<rect x="84" y="805" width="1118" height="2" fill="#d8d8d6"/>
<rect x="107" y="323" width="50" height="18" fill="#389e28"/>
<rect x="106" y="584" width="52" height="2" fill="#232150"/>
<line x1="108.5" x2="158" y1="585.3" y2="585.3" stroke="#2e2d70" stroke-width="0.9" stroke-dasharray="1 2"/>
<line x1="557" x2="610" y1="770.4" y2="770.4" stroke="#ffff00" stroke-width="3"/>
<line x1="884" x2="937" y1="770.4" y2="770.4" stroke="#ff00a0" stroke-width="3"/>
<g font-family='"Liberation Sans", "IPAGothic", sans-serif' font-size="24.8" fill="#c8c8c8">
<text x="178.6" y="340.3">先物資金調達率</text>
<text x="177.4" y="593.8">ディフィカルティ</text>
<text x="629" y="780.2" dx="0 0 0 0 0 0 0 0.3 0.6 0.6">ハッシュレート(7)</text>
<text x="956.5" y="780.2" dx="0 0 0 0 0 0 0 0.5 0.9 0.9 0.9">ハッシュレート(25)</text>
</g>
<g font-family='"Liberation Sans", "IPAGothic", sans-serif' font-size="25" fill="#c8c8c8" stroke="#1b1b1b" stroke-width="0.5">
<text x="1209.3" y="55.9" textLength="122.5" lengthAdjust="spacingAndGlyphs">6,000,000</text>
<text x="1209.3" y="106.9" textLength="122.5" lengthAdjust="spacingAndGlyphs">5,500,000</text>
<text x="1209.3" y="158.9" textLength="122.5" lengthAdjust="spacingAndGlyphs">5,000,000</text>
<text x="1209.3" y="209.9" textLength="122.5" lengthAdjust="spacingAndGlyphs">4,500,000</text>
<text x="1209.3" y="260.9" textLength="122.5" lengthAdjust="spacingAndGlyphs">4,000,000</text>
<text x="1207.7" y="380.2" textLength="53.5" lengthAdjust="spacingAndGlyphs">0.02</text>
<text x="1207.7" y="476.2" textLength="53.5" lengthAdjust="spacingAndGlyphs">0.00</text>
<text x="1208.6" y="563" textLength="140.5" lengthAdjust="spacingAndGlyphs">550Ehash/s</text>
<text x="1208.6" y="623.5" textLength="140.5" lengthAdjust="spacingAndGlyphs">500Ehash/s</text>
<text x="1208.6" y="683.5" textLength="140.5" lengthAdjust="spacingAndGlyphs">450Ehash/s</text>
<text x="1208.6" y="744.5" textLength="140.5" lengthAdjust="spacingAndGlyphs">400Ehash/s</text>
<text x="1208.6" y="804.5" textLength="140.5" lengthAdjust="spacingAndGlyphs">350Ehash/s</text>
</g>
<g font-family='"Liberation Sans", "IPAGothic", sans-serif' font-size="20.8" fill="#c8c8c8" text-anchor="middle" stroke="#1b1b1b" stroke-width="0.3">
<text transform="translate(84.4 846.3) rotate(-30)" x="0" y="7" textLength="99.6" lengthAdjust="spacingAndGlyphs">09月 03日</text>
<text transform="translate(316.9 846.3) rotate(-30)" x="0" y="7" textLength="99.6" lengthAdjust="spacingAndGlyphs">09月 23日</text>
<text transform="translate(549.4 846.3) rotate(-30)" x="0" y="7" textLength="99.6" lengthAdjust="spacingAndGlyphs">10月 13日</text>
<text transform="translate(781.9 846.3) rotate(-30)" x="0" y="7" textLength="99.6" lengthAdjust="spacingAndGlyphs">11月 02日</text>
<text transform="translate(1014.4 846.3) rotate(-30)" x="0" y="7" textLength="99.6" lengthAdjust="spacingAndGlyphs">11月 22日</text>
</g>
</svg>
</body></html>
